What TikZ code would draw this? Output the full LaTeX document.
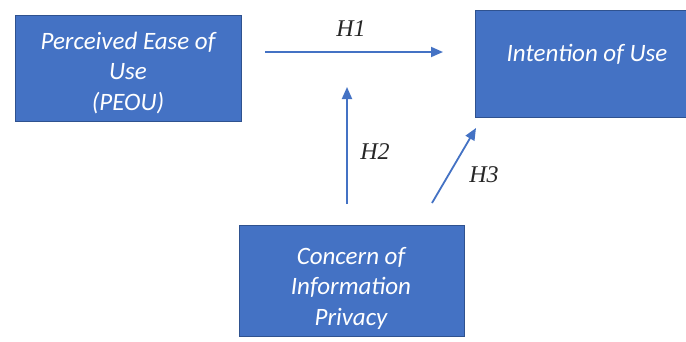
\documentclass[tikz,border=0pt]{standalone}
\usepackage{fontspec}
\setmainfont{Carlito}
\newfontfamily\labfont{Liberation Serif}
\usetikzlibrary{arrows.meta}
\definecolor{boxblue}{HTML}{4472C4}
\definecolor{boxedge}{HTML}{2F528F}
\tikzset{
  blockbox/.style={draw=boxedge, line width=0.6pt, fill=boxblue, text=white, align=center,
    font=\fontsize{25}{30.5}\selectfont\itshape, inner sep=0pt},
  conn/.style={draw=boxblue, line width=1.8pt, -{Triangle[length=12pt,width=10pt]}},
  hlab/.style={font=\labfont\fontsize{24}{26}\selectfont\itshape, text=black!85}
}
\begin{document}
\begin{tikzpicture}[x=1pt,y=-1pt]
\useasboundingbox (0,0) rectangle (686,341);
\fill[white] (0,0) rectangle (686,341);
% boxes
\draw[blockbox] (15,15) rectangle (241,121);
\node[blockbox, draw=none, fill=none] (peou) at (128,73) {Perceived Ease of\\Use\\(PEOU)};
\draw[blockbox] (475,10) rectangle (690,117);
\node[blockbox, draw=none, fill=none] (iou) at (587,54) {Intention of Use};
\draw[blockbox] (239,225) rectangle (464,336);
\node[blockbox, draw=none, fill=none] (cip) at (351,288) {Concern of\\Information\\Privacy};
% connectors
\coordinate (h1s) at (265,52);
\coordinate (h1e) at (443,52);
\coordinate (h2s) at (347,204);
\coordinate (h2e) at (347,87);
\coordinate (h3s) at (432,203);
\coordinate (h3e) at (476,128);
\draw[conn] (h1s) -- (h1e);
\draw[conn] (h2s) -- (h2e);
\draw[conn] (h3s) -- (h3e);
\node[hlab] (l1) at (351,29) {H1};
\node[hlab] (l2) at (375,152) {H2};
\node[hlab] (l3) at (484,175) {H3};
\end{tikzpicture}
\end{document}
